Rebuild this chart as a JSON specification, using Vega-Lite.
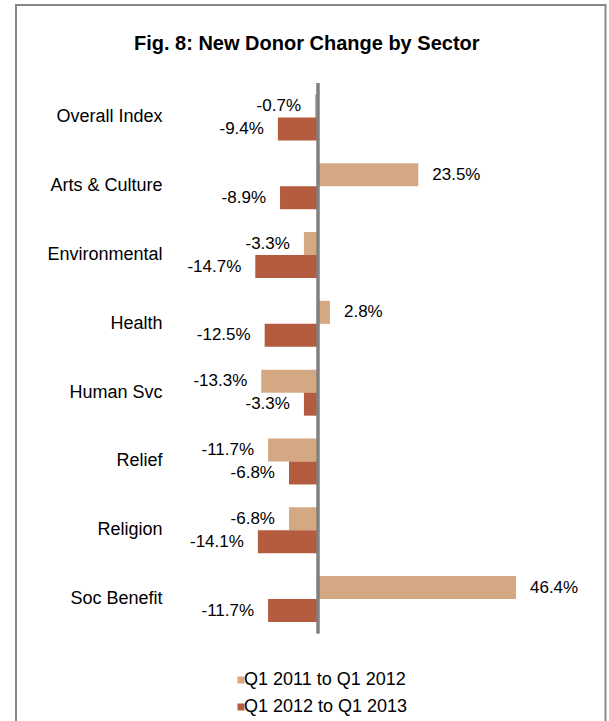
{
  "$schema": "https://vega.github.io/schema/vega-lite/v6.json",
  "width": 589.5,
  "height": 719,
  "autosize": {"type": "none"},
  "padding": {"left": 16, "top": 5, "right": 3.5, "bottom": -3},
  "background": "white",
  "config": {
    "view": {"stroke": "#878787", "strokeWidth": 2},
    "font": "Liberation Sans",
    "text": {"font": "Liberation Sans"},
    "locale": {"number": {"decimal": ".", "thousands": ",", "grouping": [3], "currency": ["$", ""], "minus": "-"}}
  },
  "title": {
    "text": "Fig. 8: New Donor Change by Sector",
    "fontSize": 20,
    "fontWeight": "bold",
    "font": "Liberation Sans",
    "color": "#000000",
    "anchor": "middle",
    "frame": "group",
    "baseline": "alphabetic",
    "offset": -45,
    "dx": -4,
    "dy": 20
  },
  "data": {
    "values": [
      {"sector": "Overall Index", "period": "Q1 2011 to Q1 2012", "value": -0.007},
      {"sector": "Overall Index", "period": "Q1 2012 to Q1 2013", "value": -0.094},
      {"sector": "Arts & Culture", "period": "Q1 2011 to Q1 2012", "value": 0.235},
      {"sector": "Arts & Culture", "period": "Q1 2012 to Q1 2013", "value": -0.089},
      {"sector": "Environmental", "period": "Q1 2011 to Q1 2012", "value": -0.033},
      {"sector": "Environmental", "period": "Q1 2012 to Q1 2013", "value": -0.147},
      {"sector": "Health", "period": "Q1 2011 to Q1 2012", "value": 0.028},
      {"sector": "Health", "period": "Q1 2012 to Q1 2013", "value": -0.125},
      {"sector": "Human Svc", "period": "Q1 2011 to Q1 2012", "value": -0.133},
      {"sector": "Human Svc", "period": "Q1 2012 to Q1 2013", "value": -0.033},
      {"sector": "Relief", "period": "Q1 2011 to Q1 2012", "value": -0.117},
      {"sector": "Relief", "period": "Q1 2012 to Q1 2013", "value": -0.068},
      {"sector": "Religion", "period": "Q1 2011 to Q1 2012", "value": -0.068},
      {"sector": "Religion", "period": "Q1 2012 to Q1 2013", "value": -0.141},
      {"sector": "Soc Benefit", "period": "Q1 2011 to Q1 2012", "value": 0.464},
      {"sector": "Soc Benefit", "period": "Q1 2012 to Q1 2013", "value": -0.117}
    ]
  },
  "encoding": {
    "y": {
      "field": "sector",
      "type": "nominal",
      "scale": {
        "domain": ["Overall Index", "Arts & Culture", "Environmental", "Health", "Human Svc", "Relief", "Religion", "Soc Benefit"],
        "range": [78, 628.5],
        "paddingInner": 0,
        "paddingOuter": 0
      },
      "axis": {
        "title": null,
        "orient": "left",
        "offset": -146,
        "domain": false,
        "ticks": false,
        "tickSize": 0,
        "labelPadding": 0,
        "labelFontSize": 18,
        "labelFont": "Liberation Sans",
        "labelColor": "#000000",
        "grid": false
      }
    }
  },
  "layer": [
    {
      "mark": {"type": "bar"},
      "encoding": {
        "x": {"field": "value", "type": "quantitative", "scale": {"domain": [-0.7078, 0.6738], "nice": false, "zero": false}, "axis": null},
        "yOffset": {"field": "period", "type": "nominal", "scale": {"domain": ["Q1 2011 to Q1 2012", "Q1 2012 to Q1 2013"], "paddingInner": 0, "paddingOuter": 0.496}},
        "color": {
          "field": "period",
          "type": "nominal",
          "scale": {"domain": ["Q1 2011 to Q1 2012", "Q1 2012 to Q1 2013"], "range": ["#D4A882", "#B35C3F"]},
          "legend": {
            "orient": "none",
            "legendX": 216,
            "legendY": 666,
            "title": null,
            "symbolType": "square",
            "symbolSize": 49,
            "symbolStrokeWidth": 0,
            "labelFontSize": 18,
            "labelFont": "Liberation Sans",
            "labelColor": "#000000",
            "labelOffset": -6,
            "labelLimit": 400,
            "rowPadding": 9,
            "padding": 0
          }
        }
      }
    },
    {
      "transform": [{"filter": "datum.value >= 0"}],
      "mark": {"type": "text", "align": "left", "baseline": "middle", "dx": 14, "fontSize": 17, "color": "#000000"},
      "encoding": {
        "x": {"field": "value", "type": "quantitative"},
        "yOffset": {"field": "period", "type": "nominal"},
        "text": {"field": "value", "type": "quantitative", "format": ".1%"}
      }
    },
    {
      "transform": [{"filter": "datum.value < 0"}],
      "mark": {"type": "text", "align": "right", "baseline": "middle", "dx": -14, "fontSize": 17, "color": "#000000"},
      "encoding": {
        "x": {"field": "value", "type": "quantitative"},
        "yOffset": {"field": "period", "type": "nominal"},
        "text": {"field": "value", "type": "quantitative", "format": ".1%"}
      }
    },
    {
      "mark": {"type": "bar", "stroke": "#808080", "strokeWidth": 3, "fill": "#808080"},
      "encoding": {
        "x": {"datum": 0},
        "x2": {"datum": 0}
      }
    }
  ]
}
